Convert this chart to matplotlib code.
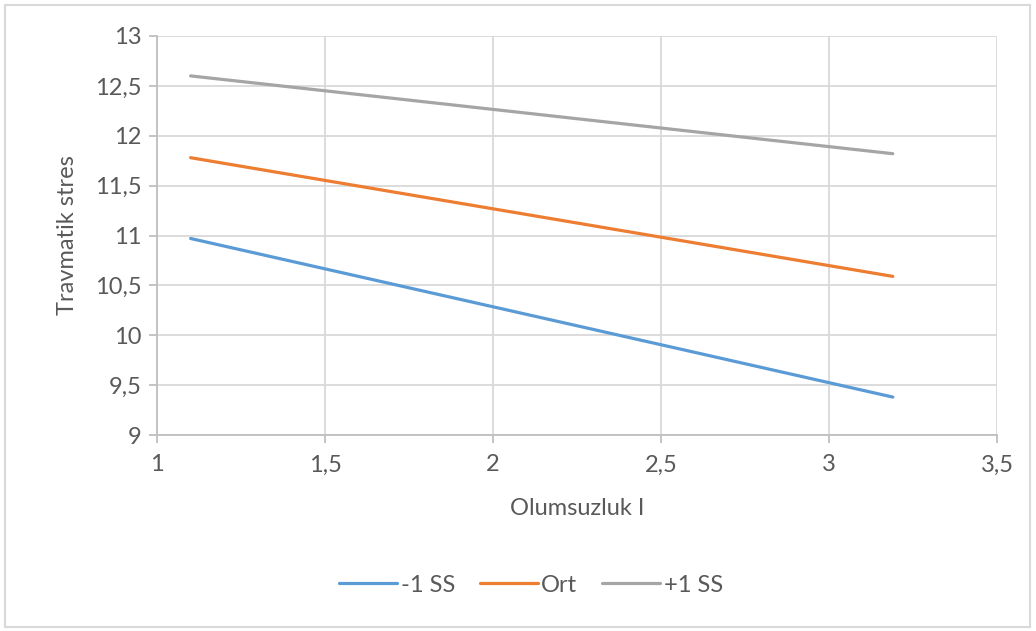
import matplotlib
matplotlib.use("Agg")
import matplotlib.pyplot as plt
import matplotlib.ticker as mticker
from matplotlib.patches import Rectangle

# simple slopes: stress vs. negativity at three moderator levels
x_vals = [1.1, 3.19]
low_ss = [10.97, 9.38]
mean_ss = [11.78, 10.59]
high_ss = [12.60, 11.82]
series_names = ["-1 SS", "Ort", "+1 SS"]
colors = ["#5B9BD5", "#ED7D31", "#A5A5A5"]

x_ticks = [1, 1.5, 2, 2.5, 3, 3.5]
y_ticks = [9, 9.5, 10, 10.5, 11, 11.5, 12, 12.5, 13]

plt.rcParams['font.family'] = ['Lato', 'DejaVu Sans']
text_color = "#595959"
grid_color = "#D9D9D9"
axis_color = "#BFBFBF"
fs = 17

fig = plt.figure(figsize=(10.36, 6.31), dpi=100)
ax = fig.add_axes([157 / 1036, 1 - 435 / 631, 840 / 1036, 399 / 631])

for vals, name, c in zip([low_ss, mean_ss, high_ss], series_names, colors):
    ax.plot(x_vals, vals, color=c, lw=2.3, label=name, solid_capstyle='round')

ax.set_xlim(1, 3.5)
ax.set_ylim(9, 13)
ax.set_xticks(x_ticks)
ax.set_yticks(y_ticks)

# decimal comma
comma = mticker.FuncFormatter(lambda v, p: ('%g' % v).replace('.', ','))
ax.xaxis.set_major_formatter(comma)
ax.yaxis.set_major_formatter(comma)

ax.grid(True, color=grid_color, lw=1.3)
ax.set_axisbelow(True)
for side in ['top', 'right']:
    ax.spines[side].set_visible(False)
for side in ['left', 'bottom']:
    ax.spines[side].set_color(axis_color)
    ax.spines[side].set_linewidth(1.3)

ax.tick_params(axis='both', colors=axis_color, length=6, width=1.3,
               labelcolor=text_color, labelsize=fs)
ax.tick_params(axis='x', pad=8)
ax.tick_params(axis='y', pad=5)

ax.set_xlabel("Olumsuzluk I", color=text_color, fontsize=fs, labelpad=16)
ax.set_ylabel("Travmatik stres", color=text_color, fontsize=fs, labelpad=12)

leg = fig.legend(loc='center', bbox_to_anchor=(531 / 1036, 1 - 585 / 631),
                 ncol=3, frameon=False, fontsize=fs, handlelength=2.45,
                 handletextpad=0.15, columnspacing=1.05)
for t in leg.get_texts():
    t.set_color(text_color)

# outer chart frame
fig.patches.append(Rectangle((5 / 1036, 4 / 631), 1025 / 1036, 622 / 631,
                             transform=fig.transFigure, fill=False,
                             edgecolor=grid_color, lw=1.5))

fig.savefig("out.png", dpi=100)
